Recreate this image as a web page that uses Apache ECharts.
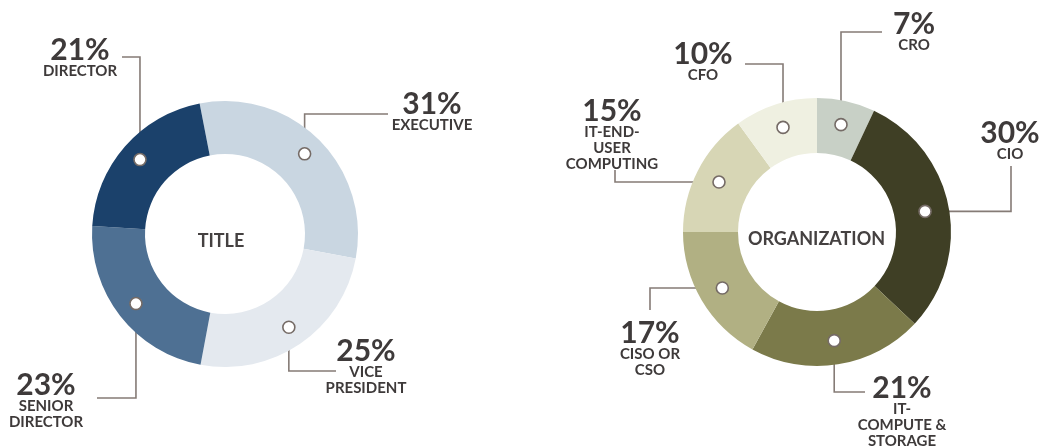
<!DOCTYPE html>
<html><head><meta charset="utf-8">
<script src="https://cdn.jsdelivr.net/npm/echarts@6/dist/echarts.min.js"></script>
<style>html,body{margin:0;padding:0;background:#fff}#c{width:1042px;height:448px}</style>
</head><body><div id="c"></div>
<script>
// ---- data ----
const titleNames  = ['EXECUTIVE', 'VICE\nPRESIDENT', 'SENIOR\nDIRECTOR', 'DIRECTOR'];
const titleValues = [31, 25, 23, 21];
const orgNames  = ['CRO', 'CIO', 'IT-\nCOMPUTE &\nSTORAGE', 'CISO OR\nCSO', 'IT-END-\nUSER\nCOMPUTING', 'CFO'];
const orgValues = [7, 30, 21, 17, 15, 10];
const centerLabels = ['TITLE', 'ORGANIZATION'];

// ---- styles / layout ----
const titleColors = ['#c9d6e1', '#e4e9ef', '#4e7093', '#1b416b'];
const orgColors   = ['#c8d0c6', '#3f3f25', '#7b7a4a', '#b1b083', '#d7d6b5', '#eff0e1'];
const textColor = '#3e3a3a';
const lineColor = '#857b76';
const FONT = 'Lato, "Open Sans", sans-serif';

const donuts = [
  { names: titleNames, values: titleValues, colors: titleColors, center: [225, 234], radius: [80, 133],
    startAngle: 101, markerR: 113, label: centerLabels[0], labelPos: [221, 241.5],
    callouts: [
      { x: 432, y: 91,  leg: 'v', end: [388, 114] },
      { x: 366, y: 338, leg: 'v', end: [336, 371] },
      { x: 46,  y: 372, leg: 'v', end: [97, 398] },
      { x: 80,  y: 37,  leg: 'v', end: [122, 57] }
    ] },
  { names: orgNames, values: orgValues, colors: orgColors, center: [817, 232], radius: [79, 134],
    startAngle: 90, markerR: 110, label: centerLabels[1], labelPos: [816.5, 239],
    callouts: [
      { x: 914,  y: 11,  leg: 'v', end: [882, 32] },
      { x: 1010, y: 120, leg: 'h', end: [1011, 166] },
      { x: 902,  y: 375, leg: 'v', end: [865, 392] },
      { x: 650,  y: 320, leg: 'h', end: [650, 310] },
      { x: 612,  y: 98,  leg: 'h', end: [615, 170] },
      { x: 703,  y: 41,  leg: 'v', end: [745, 64] }
    ] }
];

function mids(values) {
  let cum = 0; const out = [];
  values.forEach(v => { out.push(cum + v / 2); cum += v; });
  return out;
}
function total(values) { return values.reduce((a, b) => a + b, 0); }
function markerPoint(d, i) {
  const m = mids(d.values)[i];
  const ang = (d.startAngle - m / total(d.values) * 360) * Math.PI / 180;
  return [d.center[0] + d.markerR * Math.cos(ang), d.center[1] - d.markerR * Math.sin(ang)];
}

const chart = echarts.init(document.getElementById('c'), null, { renderer: 'canvas' });

const series = [];
const polar = [], angleAxis = [], radiusAxis = [], graphic = [];
donuts.forEach((d, k) => {
  series.push({
    type: 'pie',
    center: d.center,
    radius: d.radius,
    startAngle: d.startAngle,
    clockwise: true,
    avoidLabelOverlap: false,
    emphasis: { disabled: true },
    data: d.values.map((v, i) => ({ name: d.names[i], value: v, itemStyle: { color: d.colors[i] } })),
    label: {
      show: true,
      position: 'outside',
      formatter: p => '{p|' + p.value + '%}\n' + p.name.split('\n').map(s => '{n|' + s + '}').join('\n'),
      rich: {
        p: { fontSize: 30, fontWeight: 'bold', lineHeight: 26, color: textColor, fontFamily: FONT, align: 'center' },
        n: { fontSize: 15, fontWeight: 'bold', lineHeight: 16, color: textColor, fontFamily: FONT, align: 'center' }
      }
    },
    labelLine: { show: true, smooth: false, lineStyle: { color: lineColor, width: 1.6 } },
    labelLayout: params => {
      const i = params.dataIndex;
      const c = d.callouts[i];
      const m = markerPoint(d, i);
      const corner = c.leg === 'v' ? [m[0], c.end[1]] : [c.end[0], m[1]];
      return { x: c.x, y: c.y, align: 'center', verticalAlign: 'top', labelLinePoints: [m, corner, c.end] };
    }
  });
  polar.push({ center: d.center, radius: d.radius[1] });
  angleAxis.push({ polarIndex: k, type: 'value', min: 0, max: total(d.values), startAngle: d.startAngle, clockwise: true, show: false });
  radiusAxis.push({ polarIndex: k, type: 'value', min: 0, max: d.radius[1], show: false });
  series.push({
    type: 'scatter',
    coordinateSystem: 'polar',
    polarIndex: k,
    z: 10,
    symbol: 'circle',
    symbolSize: 12,
    silent: true,
    itemStyle: { color: '#ffffff', borderColor: '#756b66', borderWidth: 1.6, opacity: 1 },
    data: mids(d.values).map(m => [d.markerR, m])
  });
  graphic.push({
    type: 'text', x: d.labelPos[0], y: d.labelPos[1],
    style: { text: d.label, align: 'center', verticalAlign: 'middle', fill: '#454141',
             font: 'bold 18px ' + FONT }
  });
});

chart.setOption({
  animation: false,
  backgroundColor: '#ffffff',
  polar, angleAxis, radiusAxis,
  graphic,
  series
});
</script>
</body></html>
